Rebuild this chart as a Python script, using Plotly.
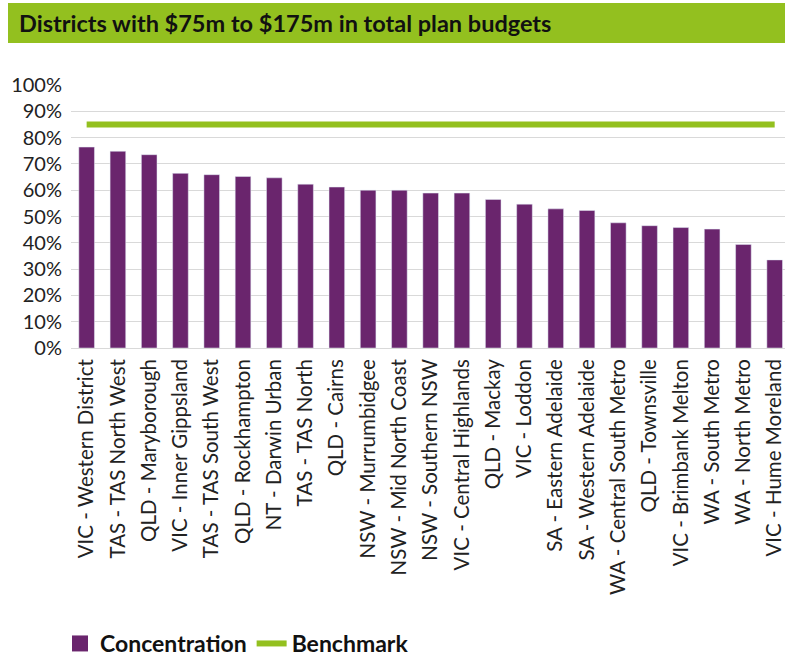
import plotly.graph_objects as go

categories = [
    "VIC - Western District", "TAS - TAS North West", "QLD - Maryborough",
    "VIC - Inner Gippsland", "TAS - TAS South West", "QLD - Rockhampton",
    "NT - Darwin Urban", "TAS - TAS North", "QLD - Cairns",
    "NSW - Murrumbidgee", "NSW - Mid North Coast", "NSW - Southern NSW",
    "VIC - Central Highlands", "QLD - Mackay", "VIC - Loddon",
    "SA - Eastern Adelaide", "SA - Western Adelaide", "WA - Central South Metro",
    "QLD - Townsville", "VIC - Brimbank Melton", "WA - South Metro",
    "WA - North Metro", "VIC - Hume Moreland",
]
concentration = [0.764, 0.748, 0.735, 0.664, 0.659, 0.652, 0.647, 0.623, 0.612,
                 0.600, 0.600, 0.589, 0.589, 0.565, 0.547, 0.529, 0.523, 0.476,
                 0.465, 0.458, 0.452, 0.394, 0.335]
benchmark = [0.85] * len(categories)
title_text = "Districts with $75m to $175m in total plan budgets"

PURPLE = "#6A256D"
GREEN = "#93C01F"
FONT = "Lato"

W, H = 785, 661
L, R, T, B = 71, 0, 85, 313
pw = W - L - R
ph = H - T - B

fig = go.Figure()
fig.add_trace(go.Bar(
    x=categories, y=concentration, name="Concentration",
    marker=dict(color=PURPLE), width=0.5, showlegend=False,
))
fig.add_trace(go.Scatter(
    x=[None], y=[None], name="Concentration", mode="markers",
    marker=dict(color=PURPLE, symbol="square", size=16), showlegend=True,
))
fig.add_trace(go.Scatter(
    x=categories, y=benchmark, name="Benchmark", mode="lines",
    line=dict(color=GREEN, width=6),
))

def px_x(x):
    return (x - L) / pw

def px_y(y):
    return (H - B - y) / ph

fig.add_shape(type="rect", xref="paper", yref="paper",
              x0=px_x(8), x1=px_x(786), y0=px_y(43), y1=px_y(3),
              fillcolor=GREEN, line=dict(width=0), layer="below")
fig.add_annotation(text=title_text, xref="paper", yref="paper",
                   x=px_x(17), y=px_y(23), xanchor="left", yanchor="middle",
                   showarrow=False,
                   font=dict(family=FONT, size=23.5, color="#111111", weight="bold"))

fig.update_layout(
    width=W, height=H,
    margin=dict(l=L, r=R, t=T, b=B, pad=0, autoexpand=False),
    paper_bgcolor="white", plot_bgcolor="white",
    font=dict(family=FONT, color="#222222"),
    showlegend=True,
    legend=dict(orientation="h", x=px_x(60), y=px_y(665), xanchor="left", yanchor="bottom",
                font=dict(family=FONT, size=23, color="#111111", weight="bold"),
                traceorder="normal", itemsizing="trace"),
    bargap=0.5,
)
fig.update_xaxes(range=[-0.5, 22.33], tickangle=-90, showgrid=False,
                 showline=False, ticks="", tickfont=dict(size=20.5, color="#222222"),
                 ticklabelstandoff=6, fixedrange=True, automargin=False)
fig.update_yaxes(range=[0, 1.0], dtick=0.1, tickformat=".0%", showgrid=True,
                 gridcolor="#d9d9d9", gridwidth=1, zeroline=True, zerolinecolor="#d9d9d9",
                 zerolinewidth=1, showline=False, ticks="",
                 tickfont=dict(size=20, color="#222222"), ticklabelstandoff=8,
                 automargin=False, fixedrange=True)

fig.write_html("out.html", config={"displayModeBar": False},
               post_script="document.body.style.margin='0';document.body.style.overflow='hidden';")
